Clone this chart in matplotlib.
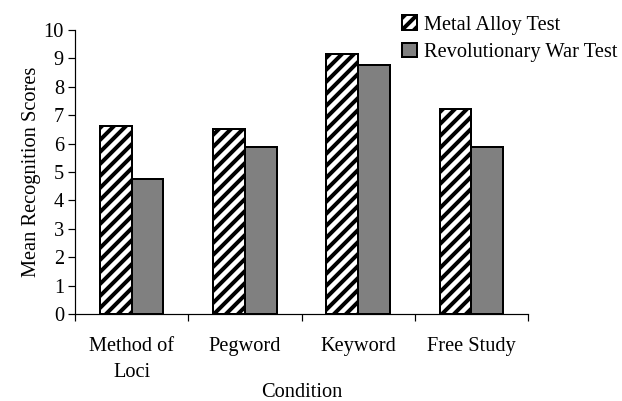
import matplotlib.pyplot as plt
import numpy as np

conditions = ['Method of\nLoci', 'Pegword', 'Keyword', 'Free Study']
metal_alloy = [6.6, 6.5, 9.15, 7.2]
revolutionary_war = [4.75, 5.88, 8.77, 5.88]
series_names = ['Metal Alloy Test', 'Revolutionary War Test']
yticks = list(range(0, 11))

plt.rcParams['font.family'] = ['Liberation Serif', 'DejaVu Serif']
plt.rcParams['hatch.linewidth'] = 2.0
plt.rcParams['font.size'] = 10.2

def main():
    fig = plt.figure(figsize=(622 / 144, 401 / 144), dpi=144)
    ax = fig.add_axes([75 / 622, 1 - 314.3 / 401, (528 - 75) / 622, (314.3 - 29.7) / 401])

    x = np.arange(len(conditions))
    w = 0.28
    ax.bar(x - w / 2, metal_alloy, w, facecolor='white', edgecolor='black',
           hatch='////', linewidth=1.0, label=series_names[0])
    ax.bar(x + w / 2, revolutionary_war, w, facecolor='#808080', edgecolor='black',
           linewidth=1.0, label=series_names[1])

    ax.set_xlim(-0.5, len(conditions) - 0.5)
    ax.set_ylim(0, 10)
    ax.set_yticks(yticks)

    ax.spines['top'].set_visible(False)
    ax.spines['right'].set_visible(False)
    ax.spines['left'].set_linewidth(0.6)
    ax.spines['bottom'].set_linewidth(0.6)

    ax.set_xticks(x)
    ax.set_xticklabels(conditions, linespacing=1.45)
    ax.set_xticks(np.arange(len(conditions) + 1) - 0.5, minor=True)
    ax.tick_params(axis='x', which='major', length=0, pad=11.5)
    ax.tick_params(axis='x', which='minor', length=3.5, width=0.6, direction='out')
    ax.tick_params(axis='y', length=3.5, width=0.6, pad=2)

    ax.set_xlabel('Condition', labelpad=0.5)
    ax.set_ylabel('Mean Recognition Scores', labelpad=1.5)

    ax.legend(loc='upper left', bbox_to_anchor=(387 / 622, 1.0), bbox_transform=fig.transFigure,
              frameon=False, handlelength=0.7, handleheight=0.7, handletextpad=0.35,
              labelspacing=0.4, borderpad=0.25)

    fig.savefig('out.png', dpi=144)

if __name__ == '__main__':
    main()
